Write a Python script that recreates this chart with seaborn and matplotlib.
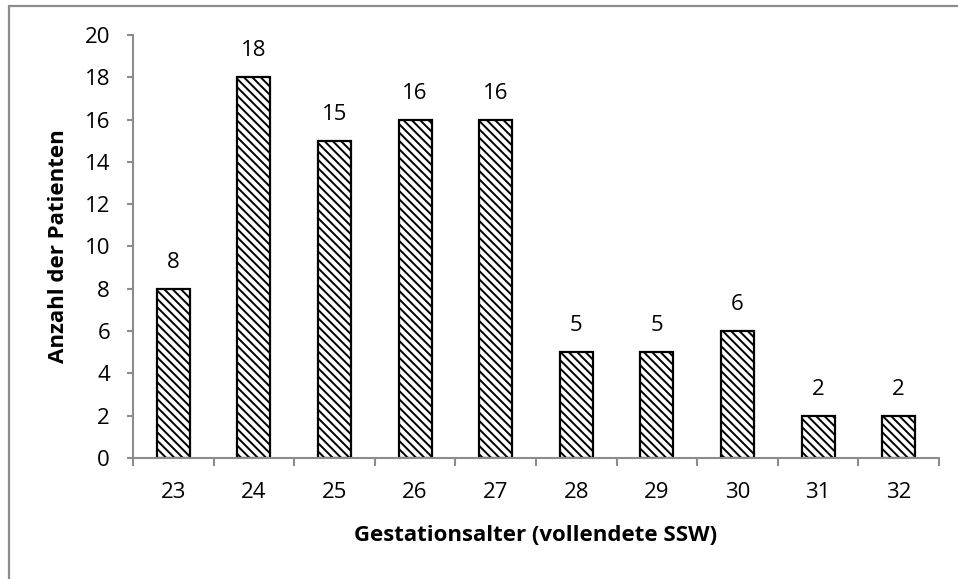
import numpy as np
import pandas as pd
import seaborn as sns
import matplotlib.pyplot as plt
from matplotlib.lines import Line2D

# data
weeks = ['23', '24', '25', '26', '27', '28', '29', '30', '31', '32']
patients = [8, 18, 15, 16, 16, 5, 5, 6, 2, 2]
y_ticks = [0, 2, 4, 6, 8, 10, 12, 14, 16, 18, 20]

sns.set_theme(style='white')
plt.rcParams['font.family'] = ['Open Sans', 'DejaVu Sans']
plt.rcParams['hatch.linewidth'] = 1.4
plt.rcParams['hatch.color'] = '#2a2a2a'

df = pd.DataFrame({'week': weeks, 'n': patients})

fig = plt.figure(figsize=(9.58, 5.79), dpi=100)
ax = fig.add_axes([133 / 958, 1 - 458 / 579, 806 / 958, 423 / 579])

sns.barplot(data=df, x='week', y='n', color='white', edgecolor='black',
            linewidth=1.6, width=0.41, ax=ax)
for p in ax.patches:
    p.set_hatch('\\\\\\\\')
    p.set_facecolor('white')

fs = 16

# value labels above the bars
for i, v in enumerate(patients):
    ax.annotate(str(v), (i, v), xytext=(0, 19), textcoords='offset points',
                ha='center', va='center', fontsize=fs, color='black')

ax.set_xlim(-0.5, len(weeks) - 0.5)
ax.set_ylim(0, 20)
ax.set_yticks(y_ticks)

grey = '#8c8c8c'
for side in ['top', 'right']:
    ax.spines[side].set_visible(False)
for side in ['left', 'bottom']:
    ax.spines[side].set_color(grey)
    ax.spines[side].set_linewidth(1.5)

# ticks on x sit between the categories
ax.set_xticks(np.arange(-0.5, len(weeks), 1.0), minor=True)
ax.tick_params(axis='x', which='minor', direction='out', length=6, width=1.5,
               color=grey, bottom=True)
ax.tick_params(axis='x', which='major', length=0, pad=17, labelsize=fs,
               labelcolor='black')
ax.tick_params(axis='y', which='major', direction='out', length=4.5, width=1.5,
               color=grey, left=True, pad=12, labelsize=fs, labelcolor='black')

ax.set_xlabel('Gestationsalter (vollendete SSW)', fontsize=fs,
              fontweight='bold', color='black')
ax.set_ylabel('Anzahl der Patienten', fontsize=fs, fontweight='bold',
              color='black')
ax.xaxis.set_label_coords(0.5, -0.158)
ax.yaxis.set_label_coords(-0.079, 0.5)

# outer chart frame (only top and left edges are visible in the crop)
fig.add_artist(Line2D([8.5 / 958, 1.0], [1 - 6 / 579, 1 - 6 / 579],
                      color=grey, linewidth=1.6, transform=fig.transFigure))
fig.add_artist(Line2D([8.5 / 958, 8.5 / 958], [0, 1 - 6 / 579],
                      color=grey, linewidth=1.6, transform=fig.transFigure))

fig.savefig('out.png', dpi=100)
